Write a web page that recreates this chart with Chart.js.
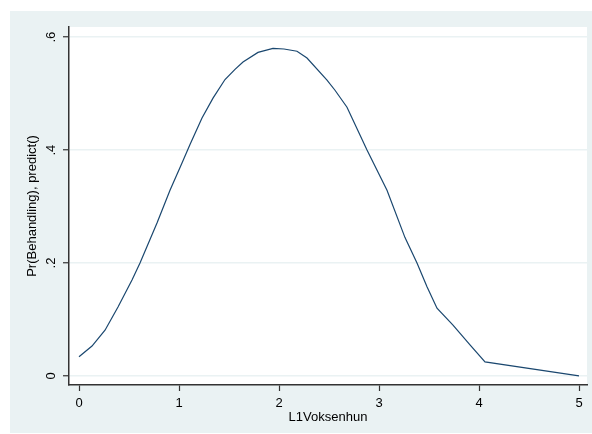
<!DOCTYPE html>
<html>
<head>
<meta charset="utf-8">
<script src="https://cdn.jsdelivr.net/npm/chart.js@4"></script>
<style>
  body { margin: 0; background: #fff; }
  #wrap { position: absolute; left: 10px; top: 11px; width: 582px; height: 422px; background: #eaf2f3; }
</style>
</head>
<body>
<div id="wrap"><canvas id="chart" width="582" height="422"></canvas></div>
<script>
const xVals = [0, 0.13, 0.26, 0.39, 0.53, 0.61, 0.78, 0.91, 1.03, 1.11, 1.23, 1.34, 1.46, 1.56, 1.64, 1.79, 1.94, 2.05, 2.18, 2.28, 2.48, 2.56, 2.68, 2.88, 3.08, 3.26, 3.38, 3.48, 3.58, 3.74, 3.91, 4.06, 5];
const yVals = [0.034, 0.053, 0.081, 0.122, 0.17, 0.2, 0.271, 0.329, 0.377, 0.41, 0.457, 0.492, 0.525, 0.543, 0.556, 0.573, 0.58, 0.579, 0.575, 0.563, 0.524, 0.506, 0.476, 0.4, 0.329, 0.245, 0.2, 0.158, 0.12, 0.09, 0.055, 0.025, 0.0];
const xTicks = [0, 1, 2, 3, 4, 5];
const yTicks = [0, 0.2, 0.4, 0.6];
const yTickLabels = ['0', '.2', '.4', '.6'];

const chart = document.querySelector('#chart');
const font = { family: 'Liberation Sans, Arial, sans-serif', size: 13 };

new Chart(chart, {
    type: 'scatter',
    data: {
        datasets: [{
            data: xVals.map((x, i) => ({ x: x, y: yVals[i] })),
            showLine: true,
            borderColor: '#1a476f',
            borderWidth: 1.2,
            pointRadius: 0,
            tension: 0
        }]
    },
    options: {
        responsive: false,
        animation: false,
        layout: { padding: { top: 16, right: 5, bottom: 0, left: 0 } },
        plugins: {
            legend: { display: false },
            tooltip: { enabled: false }
        },
        scales: {
            x: {
                type: 'linear',
                min: -0.1,
                max: 5.08,
                afterBuildTicks: s => { s.ticks = xTicks.map(v => ({ value: v })); },
                afterFit: s => { s.height = 48; },
                ticks: { color: '#000', font: font, padding: 5, maxRotation: 0 },
                grid: { drawOnChartArea: false, tickLength: 6, tickColor: '#333', tickWidth: 1.2 },
                border: { color: '#333', width: 1.5 },
                title: { display: true, text: 'L1Voksenhun', color: '#000', font: font, padding: { top: 0, bottom: 8 } }
            },
            y: {
                min: -0.016,
                max: 0.618,
                afterBuildTicks: s => { s.ticks = yTicks.map(v => ({ value: v })); },
                afterFit: s => { s.width = 59; },
                ticks: {
                    color: '#000', font: font, padding: 6,
                    minRotation: 90, maxRotation: 90, crossAlign: 'center',
                    callback: v => yTickLabels[yTicks.indexOf(v)]
                },
                grid: { color: '#eaf2f3', lineWidth: 1.5, tickLength: 6, tickColor: '#333', tickWidth: 1.2 },
                border: { color: '#333', width: 1.5 },
                title: { display: true, text: 'Pr(Behandling), predict()', color: '#000', font: font, padding: { top: 15, bottom: 0 } }
            }
        }
    },
    plugins: [{
        id: 'plotBg',
        beforeDraw(c) {
            const a = c.chartArea;
            c.ctx.save();
            c.ctx.fillStyle = '#fff';
            c.ctx.fillRect(a.left, a.top, a.right - a.left, a.bottom - a.top);
            c.ctx.restore();
        }
    }]
});
</script>
</body>
</html>
